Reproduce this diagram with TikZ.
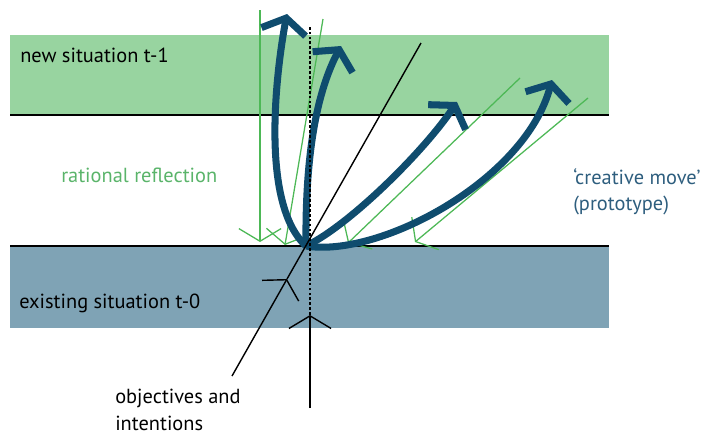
\documentclass[tikz,border=0pt]{standalone}
\usepackage{fontspec}
\setmainfont{PT Sans}
\usetikzlibrary{arrows.meta}

\definecolor{newband}{HTML}{98D4A0}
\definecolor{oldband}{HTML}{7FA3B5}
\definecolor{movecol}{HTML}{0F4C6E}
\definecolor{reflcol}{HTML}{4DB856}
\definecolor{refltext}{HTML}{5AB46A}
\definecolor{movetext}{HTML}{2E5E7E}

\begin{document}
\begin{tikzpicture}[x=0.025cm,y=-0.025cm,
	every node/.style={font=\fontsize{14.5}{19}\selectfont,inner sep=0pt,align=left},
	barb/.style={-{Straight Barb[length=9pt,width=30pt]}},
	movearrow/.style={-{Straight Barb[sharp,length=10pt,width=32pt]},draw=movecol,line width=5pt},
	reflarrow/.style={barb,draw=reflcol,line width=0.9pt},
	axisarrow/.style={barb,draw=black,line width=1pt}
	]
	\useasboundingbox (0,0) rectangle (703,436);
	
	% the two situations
	\fill[newband] (10,35) rectangle (609,115);
	\fill[oldband] (10,246) rectangle (609,328);
	\draw[line width=1pt] (10,115) -- (609,115);
	\draw[line width=1pt] (10,246) -- (609,246);
	
	% the points
	\coordinate (o) at (306,246);
	\coordinate (r1) at (260,10);   \coordinate (r1t) at (260,242);
	\coordinate (r2) at (323,19);   \coordinate (r2t) at (285,245);
	\coordinate (r3) at (520,78);   \coordinate (r3t) at (348,243);
	\coordinate (r4) at (588,98);   \coordinate (r4t) at (415,242);
	\coordinate (m1) at (287,14);
	\coordinate (m2) at (341,46);
	\coordinate (m3) at (457,102);
	\coordinate (m4) at (552,80);
	\coordinate (ob) at (232,376);  \coordinate (obt) at (287,279);  \coordinate (ot) at (421,43);
	\coordinate (vb) at (310,408);  \coordinate (vbt) at (310,315);  \coordinate (vt) at (310,27);
	
	% the labels
	\node[anchor=base west] (newsit) at (20,62) {new situation t-1};
	\node[anchor=base west,text=refltext] (ratref) at (61,182) {rational reflection};
	\node[anchor=base west] (exsit) at (19,308) {existing situation t-0};
	\node[anchor=north west] (objint) at (115,389) {objectives and\\intentions};
	\node[anchor=north west,text=movetext] (cremove) at (573,168) {‘creative move’\\(prototype)};
	
	% rational reflection
	\draw[reflarrow] (r1) -- (r1t);
	\draw[reflarrow] (r2) -- (r2t);
	\draw[reflarrow] (r3) -- (r3t);
	\draw[reflarrow] (r4) -- (r4t);
	
	% the creative moves
	\draw[movearrow] (o) .. controls (256,200) and (280,50) .. (m1);
	\draw[movearrow] (o) .. controls (305,150) and (318,90) .. (m2);
	\draw[movearrow] (o) .. controls (350,225) and (425,150) .. (m3);
	\draw[movearrow] (o) .. controls (380,258) and (525,180) .. (m4);
	
	% objectives and intentions
	\draw[axisarrow] (ob) -- (obt);
	\draw[line width=1pt] (obt) -- (ot);
	\draw[axisarrow] (vb) -- (vbt);
	\draw[line width=1.3pt,dash pattern=on 2pt off 1.5pt] (vbt) -- (vt);
\end{tikzpicture}
\end{document}
